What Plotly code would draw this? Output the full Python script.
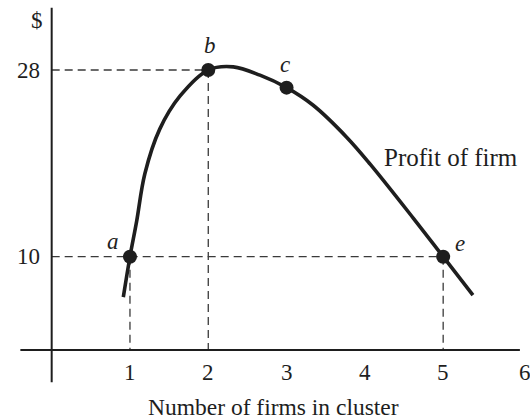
import plotly.graph_objects as go

# ---- data ----
curve_x = [0.915, 1.0, 1.085, 1.19, 1.38, 1.64, 2.0, 2.32, 2.66, 3.0, 3.34, 3.77, 4.07, 4.62, 5.0, 5.38]
curve_y = [6.1, 10.0, 13.4, 18.0, 22.3, 25.5, 28.0, 28.3, 27.5, 26.3, 24.6, 21.5, 18.9, 13.7, 10.0, 6.3]
point_labels = ["a", "b", "c", "e"]
point_x = [1, 2, 3, 5]
point_y = [10, 28, 26.3, 10]
x_ticks = [1, 2, 3, 4, 5, 6]
y_ticks = [10, 28]
x_title = "Number of firms in cluster"
y_title = "$"
curve_name = "Profit of firm"

FONT = "Liberation Serif, Times New Roman, serif"
INK = "#1e1e1e"
AXIS_Y = 1.0  # where the drawn horizontal axis sits

fig = go.Figure()

# dashed guide lines
guides = [
    (0, 28, 2, 28), (2, 28, 2, AXIS_Y),
    (0, 10, 5, 10), (1, 10, 1, AXIS_Y), (5, 10, 5, AXIS_Y),
]
for x0, y0, x1, y1 in guides:
    fig.add_trace(go.Scatter(x=[x0, x1], y=[y0, y1], mode="lines",
                             line=dict(color="#3a3a3a", width=1.3, dash="8px,5px"),
                             hoverinfo="skip", showlegend=False))

# axes
fig.add_trace(go.Scatter(x=[0, 0], y=[-2.1, 34.0], mode="lines",
                         line=dict(color=INK, width=2), hoverinfo="skip", showlegend=False))
fig.add_trace(go.Scatter(x=[-0.40, 5.98], y=[AXIS_Y, AXIS_Y], mode="lines",
                         line=dict(color=INK, width=2), hoverinfo="skip", showlegend=False))

# curve
fig.add_trace(go.Scatter(x=curve_x, y=curve_y, mode="lines",
                         line=dict(color=INK, width=3.6, shape="spline", smoothing=1.0),
                         showlegend=False))
# points
fig.add_trace(go.Scatter(x=point_x, y=point_y, mode="markers",
                         marker=dict(color=INK, size=14), showlegend=False))

ann = []
# point labels
label_off = {"a": (-0.22, 1.5), "b": (0.02, 2.4), "c": (-0.02, 2.2), "e": (0.21, 1.3)}
for lab, px, py in zip(point_labels, point_x, point_y):
    dx, dy = label_off[lab]
    ann.append(dict(x=px + dx, y=py + dy, text=f"<i>{lab}</i>", showarrow=False,
                    font=dict(family=FONT, size=23, color=INK)))
# x tick labels
for t in x_ticks:
    ann.append(dict(x=t + (0.045 if t == 6 else 0), y=-1.2, text=str(t), showarrow=False,
                    font=dict(family=FONT, size=23, color=INK)))
# y tick labels
for t in y_ticks:
    ann.append(dict(x=-0.12, y=t, text=str(t), showarrow=False, xanchor="right",
                    font=dict(family=FONT, size=23, color=INK)))
ann.append(dict(x=-0.19, y=32.8, text=y_title, showarrow=False,
                font=dict(family=FONT, size=23, color=INK)))
ann.append(dict(x=2.83, y=-4.5, text=x_title, showarrow=False,
                font=dict(family=FONT, size=23.5, color=INK)))
ann.append(dict(x=4.22, y=19.6, text=curve_name, showarrow=False, xanchor="left",
                font=dict(family=FONT, size=25, color=INK)))

fig.update_layout(
    width=530, height=419,
    margin=dict(l=0, r=0, t=0, b=0),
    paper_bgcolor="white", plot_bgcolor="white",
    xaxis=dict(range=[-0.660, 6.109], visible=False, fixedrange=True),
    yaxis=dict(range=[-5.65, 34.75], visible=False, fixedrange=True),
    annotations=ann,
    showlegend=False,
)

# remove the browser's default 8px page margin so the 530x419 figure fills the window
fig.write_html("out.html",
               config={"displayModeBar": False, "staticPlot": True},
               post_script="document.body.style.margin='0';document.body.style.overflow='hidden';")
